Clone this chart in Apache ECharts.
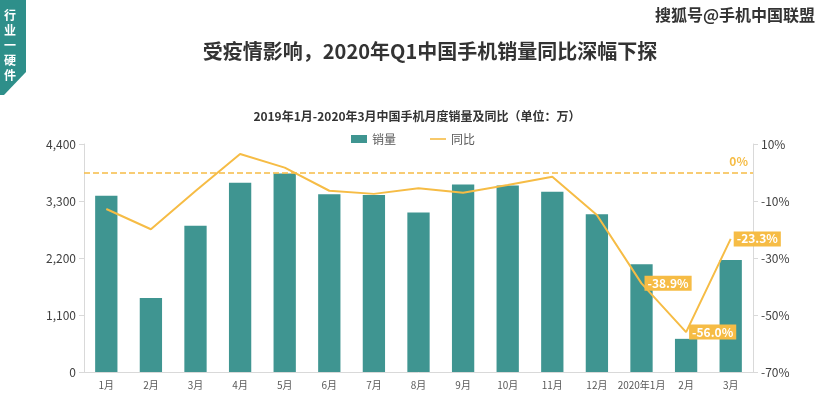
<!DOCTYPE html>
<html><head><meta charset="utf-8">
<script src="https://cdn.jsdelivr.net/npm/echarts@6/dist/echarts.min.js"></script>
<style>html,body{margin:0;padding:0;background:#fff}#c{width:827px;height:400px}</style>
</head><body><div id="c"></div>
<script>
const categories = ['1月','2月','3月','4月','5月','6月','7月','8月','9月','10月','11月','12月','2020年1月','2月','3月'];
const sales = [3400, 1430, 2820, 3650, 3830, 3430, 3415, 3080, 3620, 3600, 3480, 3045, 2080, 640, 2160];
const yoy = [-12.8, -19.9, -6.5, 6.5, 1.7, -6.4, -7.5, -5.5, -7.1, -4.4, -1.5, -14.9, -38.9, -56.0, -23.3];
const labelledIdx = [12, 13, 14];
const leftTicks = {min: 0, max: 4400, interval: 1100};
const rightTicks = {min: -70, max: 10, interval: 20};

const teal = '#3F9591', gold = '#F6BC45';
const font = '"Noto Sans CJK SC", "Noto Sans", sans-serif';
const chart = echarts.init(document.getElementById('c'), null, {renderer: 'canvas'});
const lineData = yoy.map((v, i) => labelledIdx.includes(i) ? {
  value: v,
  label: {show: true, position: 'right', distance: 3, formatter: p => p.value.toFixed(1) + '%',
    backgroundColor: gold, color: '#fff', fontWeight: 'bold', fontSize: 12, fontFamily: font,
    padding: [2, 3, 1, 3]}
} : v);
chart.setOption({
  animation: false,
  textStyle: {fontFamily: font},
  title: [
    {text: '受疫情影响，2020年Q1中国手机销量同比深幅下探', left: 425, top: 36, textAlign: 'center',
      textStyle: {fontSize: 20, fontWeight: 'bold', color: '#333', fontFamily: font}},
    {text: '2019年1月-2020年3月中国手机月度销量及同比（单位：万）', left: 412, top: 105, textAlign: 'center',
      textStyle: {fontSize: 12, fontWeight: 'bold', color: '#333', fontFamily: font}}
  ],
  legend: {top: 128, left: 346, itemGap: 34, itemWidth: 16, itemHeight: 8,
    textStyle: {fontSize: 12, color: '#595959', fontFamily: font},
    data: [{name: '销量', icon: 'rect'}, {name: '同比', icon: 'path://M0,0h20v2h-20z'}]},
  grid: {left: 84, right: 74, top: 144, bottom: 28},
  xAxis: {type: 'category', data: categories,
    axisLine: {lineStyle: {color: '#d9d9d9'}}, axisTick: {show: false},
    axisLabel: {fontSize: 10, color: '#595959', margin: 8, interval: 0}},
  yAxis: [
    {type: 'value', min: leftTicks.min, max: leftTicks.max, interval: leftTicks.interval,
      splitLine: {show: false},
      axisLine: {show: true, lineStyle: {color: '#d9d9d9'}}, axisTick: {show: true, lineStyle: {color: '#d9d9d9'}},
      axisLabel: {fontSize: 12, color: '#404040', formatter: v => v.toLocaleString('en-US')}},
    {type: 'value', min: rightTicks.min, max: rightTicks.max, interval: rightTicks.interval,
      splitLine: {show: false},
      axisLine: {show: true, lineStyle: {color: '#d9d9d9'}}, axisTick: {show: true, lineStyle: {color: '#d9d9d9'}},
      axisLabel: {fontSize: 12, color: '#404040', formatter: v => v + '%'}}
  ],
  series: [
    {name: '销量', type: 'bar', data: sales, barWidth: '50%', itemStyle: {color: teal}},
    {name: '同比', type: 'line', yAxisIndex: 1, data: lineData, symbol: 'circle', symbolSize: 0, showSymbol: true,
      lineStyle: {color: gold, width: 2}, itemStyle: {color: gold},
      markLine: {silent: true, symbol: 'none', data: [{yAxis: 0}],
        lineStyle: {color: gold, type: 'dashed', width: 1.5},
        label: {show: true, position: 'insideEndTop', formatter: '0%', color: gold, fontWeight: 'bold', fontSize: 12, fontFamily: font}}}
  ],
  graphic: [
    {type: 'polygon', shape: {points: [[0,0],[26,0],[26,72],[4,95],[0,95]]}, style: {fill: '#2E8F8A'}},
    {type: 'text', left: 4, top: 8, style: {text: '行\n业\n一\n硬\n件', fill: '#fff', font: 'bold 12px ' + font, lineHeight: 15}},
    {type: 'text', right: 12, top: 7, style: {text: '搜狐号@手机中国联盟', fill: '#333', font: 'bold 16px ' + font}}
  ]
});
</script></body></html>
